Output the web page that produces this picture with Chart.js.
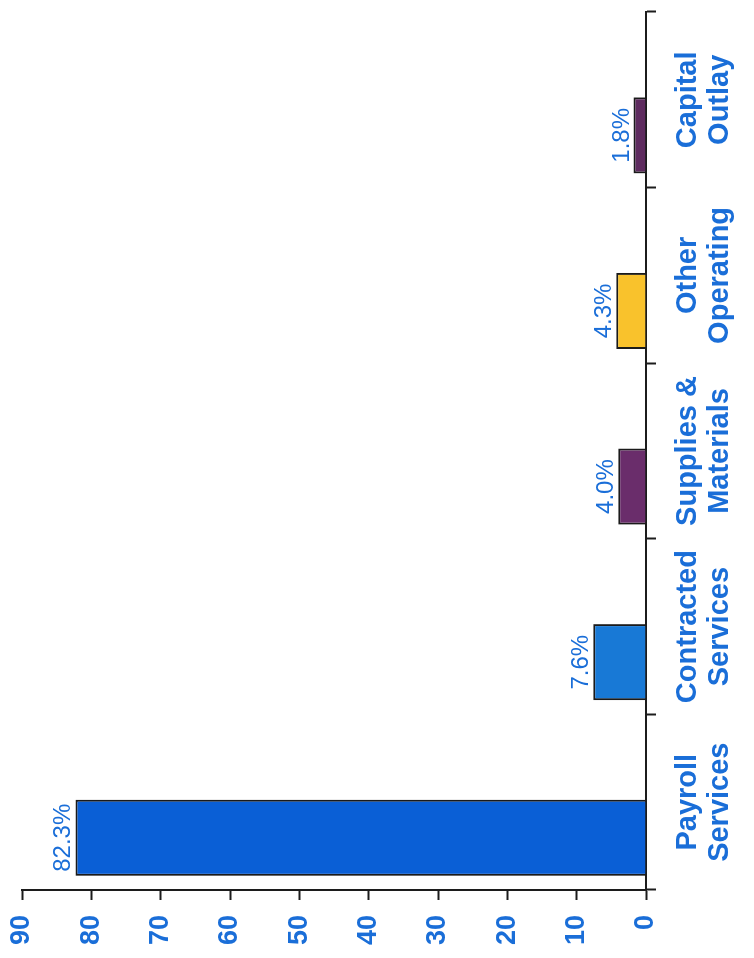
<!DOCTYPE html>
<html>
<head>
<meta charset="utf-8">
<script src="https://cdn.jsdelivr.net/npm/chart.js@4/dist/chart.umd.min.js"></script>
<style>
  html, body { margin: 0; padding: 0; background: #ffffff; }
  #page { position: relative; width: 754px; height: 958px; overflow: hidden; background: #ffffff; }
  #rot { position: absolute; width: 958px; height: 754px; left: -102px; top: 102px; transform: rotate(-90deg); transform-origin: 50% 50%; }
</style>
</head>
<body>
<div id="page"><div id="rot"><canvas id="c" width="958" height="754"></canvas></div></div>
<script>
// ---- data ----
const categories = [["Payroll", "Services"], ["Contracted", "Services"], ["Supplies &", "Materials"], ["Other", "Operating"], ["Capital", "Outlay"]];
const values = [82.3, 7.6, 4.0, 4.3, 1.8];
const barColors = ["#0a5fd6", "#1879d6", "#6a2d6b", "#f9c22c", "#5e2b5f"];
const valueTicks = [0, 10, 20, 30, 40, 50, 60, 70, 80, 90];
const spacer = [null, null, null, null, null];

const textBlue = "#1a6ed8";
const axisColor = "#1c1c1c";

const valueLabelPlugin = {
  id: "valueLabels",
  afterDatasetsDraw(chart) {
    const ctx = chart.ctx;
    const meta = chart.getDatasetMeta(0);
    ctx.save();
    ctx.fillStyle = textBlue;
    ctx.font = "normal 24px 'Liberation Sans', Arial, sans-serif";
    ctx.textAlign = "center";
    ctx.textBaseline = "alphabetic";
    meta.data.forEach((bar, i) => {
      ctx.fillText(values[i].toFixed(1) + "%", bar.x, bar.y - 5);
    });
    ctx.restore();
  }
};

Chart.defaults.font.family = "'Liberation Sans', Arial, sans-serif";

new Chart(document.getElementById("c"), {
  type: "bar",
  data: {
    labels: categories,
    datasets: [
      {
        data: values,
        backgroundColor: barColors,
        borderColor: "#1a1a1a",
        borderWidth: 2,
        categoryPercentage: 0.81,
        barPercentage: 1.07
      },
      {
        data: spacer,
        backgroundColor: "rgba(0,0,0,0)",
        borderWidth: 0,
        categoryPercentage: 0.81,
        barPercentage: 1.07
      }
    ]
  },
  options: {
    responsive: false,
    devicePixelRatio: 1,
    animation: false,
    layout: { padding: { top: 22, right: 12, left: 0, bottom: 0 } },
    plugins: {
      legend: { display: false },
      tooltip: { enabled: false }
    },
    scales: {
      x: {
        offset: true,
        grid: {
          offset: true,
          drawOnChartArea: false,
          drawTicks: true,
          tickLength: 10,
          tickWidth: 2,
          color: axisColor
        },
        border: { display: true, color: axisColor, width: 2 },
        ticks: {
          color: textBlue,
          padding: 16,
          maxRotation: 0,
          minRotation: 0,
          font: { size: 29, weight: "bold", lineHeight: 1.1 }
        },
        afterFit(scale) { scale.height = 108; scale.paddingLeft = 0; scale.paddingRight = 0; }
      },
      y: {
        min: 0,
        max: 90,
        afterBuildTicks(scale) { scale.ticks = valueTicks.map(v => ({ value: v })); },
        grid: {
          drawOnChartArea: false,
          drawTicks: true,
          tickLength: 10,
          tickWidth: 2,
          color: axisColor
        },
        border: { display: true, color: axisColor, width: 2 },
        ticks: {
          color: textBlue,
          padding: 15,
          font: { size: 27, weight: "bold" }
        },
        afterFit(scale) { scale.width = 68; scale.paddingTop = 0; scale.paddingBottom = 0; }
      }
    }
  },
  plugins: [valueLabelPlugin]
});
</script>
</body>
</html>
